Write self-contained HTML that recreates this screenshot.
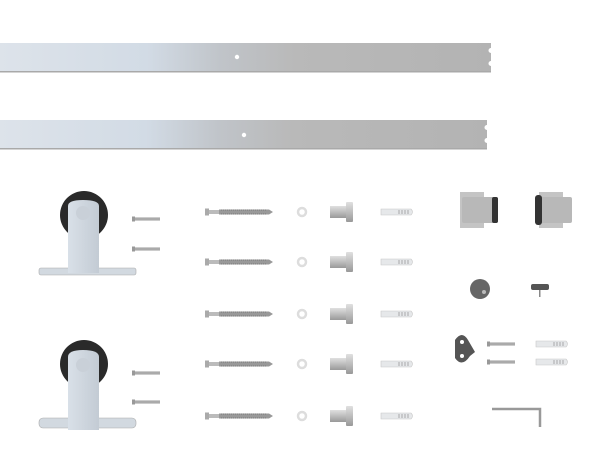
<!DOCTYPE html>
<html><head><style>html,body{margin:0;padding:0;background:#fff;width:600px;height:450px;overflow:hidden}</style></head>
<body>
<svg width="600" height="450" viewBox="0 0 600 450" xmlns="http://www.w3.org/2000/svg">
<defs>
<linearGradient id="rail" x1="0" x2="1" y1="0" y2="0">
<stop offset="0" stop-color="#dde3ea"/><stop offset="0.3" stop-color="#d2dbe5"/><stop offset="0.45" stop-color="#c0c4c9"/><stop offset="0.6" stop-color="#b9b9b9"/><stop offset="1" stop-color="#b3b3b3"/></linearGradient>
<linearGradient id="metal" x1="0" x2="0" y1="0" y2="1"><stop offset="0" stop-color="#e0e0e0"/><stop offset="0.5" stop-color="#bdbdbd"/><stop offset="1" stop-color="#999"/></linearGradient>
<linearGradient id="brk" x1="0" x2="1"><stop offset="0" stop-color="#d9e0e8"/><stop offset="1" stop-color="#c3cbd4"/></linearGradient>
<g id="lag"><rect x="0" y="-3.5" width="4" height="7" fill="#aaa"/><rect x="4" y="-2" width="10" height="4" fill="#bbb"/><path d="M14 -2.5 L64 -2.5 L68 0 L64 2.5 L14 2.5Z" fill="#999"/><path d="M16 -2 L62 -2 M16 2 L62 2" stroke="#777" stroke-width="1" stroke-dasharray="1 1"/></g>
<g id="spacer"><rect x="0" y="-6" width="16" height="12" fill="url(#metal)"/><rect x="16" y="-10" width="7" height="20" rx="1" fill="url(#metal)"/></g>
<g id="anchor"><path d="M0 -3 L30 -3 Q33 0 30 3 L0 3Z" fill="#e6e8ea" stroke="#c8c8c8" stroke-width="0.6"/><path d="M18 -2 v4 M21 -2 v4 M24 -2 v4 M27 -2 v4" stroke="#999" stroke-width="0.8"/></g>
<g id="pin"><rect x="0" y="-2.5" width="3" height="5" fill="#999"/><rect x="3" y="-1.6" width="25" height="3.2" fill="#aaa"/></g>
</defs>
<!-- rails -->
<path d="M0 43 H491 V48 A2.5 2.5 0 0 0 491 53 V61 A2.5 2.5 0 0 0 491 66 V72 H0Z" fill="url(#rail)"/>
<rect x="0" y="71" width="491" height="1.5" fill="#a9a9a9"/>
<circle cx="237" cy="57" r="2.2" fill="#fff"/>
<path d="M0 120 H487 V125 A2.5 2.5 0 0 0 487 130 V138 A2.5 2.5 0 0 0 487 143 V149 H0Z" fill="url(#rail)"/>
<rect x="0" y="148" width="487" height="1.5" fill="#a9a9a9"/>
<circle cx="244" cy="135" r="2.2" fill="#fff"/>
<!-- rollers -->
<g>
<circle cx="84" cy="215" r="24" fill="#2a2a2a"/>
<rect x="39" y="268" width="97" height="7" rx="2" fill="#d2d9e0" stroke="#aaa" stroke-width="0.6"/>
<path d="M68 206 Q68 200 83 200 Q99 200 99 206 V273 H68Z" fill="url(#brk)"/>
<circle cx="83" cy="213" r="7" fill="#c9d0d8"/>
</g>
<g>
<circle cx="84" cy="364" r="24" fill="#2a2a2a"/>
<rect x="39" y="418" width="97" height="10" rx="4" fill="#d2d9e0" stroke="#aaa" stroke-width="0.6"/>
<path d="M68 357 Q68 350 83 350 Q99 350 99 357 V430 H68Z" fill="url(#brk)"/>
<circle cx="83" cy="365" r="7" fill="#c9d0d8"/>
</g>
<use href="#pin" x="132" y="219"/><use href="#pin" x="132" y="249"/>
<use href="#pin" x="132" y="373"/><use href="#pin" x="132" y="402"/>
<!-- columns -->
<use href="#lag" x="205" y="212"/><use href="#lag" x="205" y="262"/><use href="#lag" x="205" y="314"/><use href="#lag" x="205" y="364"/><use href="#lag" x="205" y="416"/>
<g fill="none" stroke="#ddd" stroke-width="2.5">
<circle cx="302" cy="212" r="4"/><circle cx="302" cy="262" r="4"/><circle cx="302" cy="314" r="4"/><circle cx="302" cy="364" r="4"/><circle cx="302" cy="416" r="4"/></g>
<use href="#spacer" x="330" y="212"/><use href="#spacer" x="330" y="262"/><use href="#spacer" x="330" y="314"/><use href="#spacer" x="330" y="364"/><use href="#spacer" x="330" y="416"/>
<use href="#anchor" x="381" y="212"/><use href="#anchor" x="381" y="262"/><use href="#anchor" x="381" y="314"/><use href="#anchor" x="381" y="364"/><use href="#anchor" x="381" y="416"/>
<!-- stoppers -->
<rect x="460" y="192" width="24" height="36" fill="#c4c4c4"/>
<rect x="462" y="197" width="36" height="26" rx="2" fill="#b8b8b8"/>
<rect x="492" y="197" width="6" height="26" rx="2" fill="#333"/>
<rect x="539" y="192" width="24" height="36" fill="#c4c4c4"/>
<rect x="537" y="197" width="35" height="26" rx="2" fill="#b8b8b8"/>
<rect x="535" y="195" width="7" height="30" rx="3" fill="#333"/>
<!-- knob -->
<circle cx="480" cy="289" r="10" fill="#666"/>
<circle cx="484" cy="292" r="2" fill="#bbb"/>
<rect x="531" y="284" width="18" height="6" rx="2" fill="#555"/>
<rect x="539" y="290" width="1.5" height="7" fill="#888"/>
<!-- floor guide -->
<path d="M455 340 Q462 330 468 340 L475 352 L470 356 Q462 368 455 358Z" fill="#555"/>
<circle cx="462" cy="342" r="2" fill="#fff"/><circle cx="462" cy="356" r="2" fill="#fff"/>
<use href="#pin" x="487" y="344"/><use href="#pin" x="487" y="362"/>
<use href="#anchor" x="536" y="344"/><use href="#anchor" x="536" y="362"/>
<!-- allen key -->
<path d="M492 409 H540 V427" fill="none" stroke="#999" stroke-width="2.5"/>
</svg>
</body></html>
